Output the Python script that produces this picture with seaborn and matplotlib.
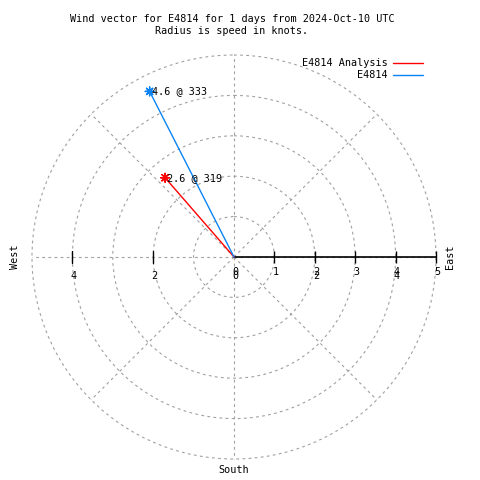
import numpy as np
import pandas as pd
import matplotlib
matplotlib.use('Agg')
import matplotlib.pyplot as plt
import seaborn as sns

## data
series = ['E4814 Analysis', 'E4814']
speed = [2.6, 4.6]          # knots
direction = [319, 333]      # degrees, clockwise from north
colors = ['#ff0000', '#0a84f5']
ticks_x = [0, 1, 2, 3, 4, 5]
ticks_r = [0, 2, 4]
title = 'Wind vector for E4814 for 1 days from 2024-Oct-10 UTC\nRadius is speed in knots.'

sns.set_style('white')
plt.rcParams['font.family'] = ['DejaVu Sans Mono', 'DejaVu Sans']
plt.rcParams['text.color'] = 'black'
fs = 7.3
grid_col = '#a0a0a0'

## build vectors: origin and tip for every series
theta = np.deg2rad(direction)
df = pd.DataFrame({
    'series': np.repeat(series, 2),
    'theta': np.repeat(theta, 2),
    'r': np.ravel([[0, s] for s in speed]),
})
tips = pd.DataFrame({'series': series, 'theta': theta, 'r': speed})
pal = dict(zip(series, colors))

fig = plt.figure(figsize=(4.8, 4.8), dpi=100)
ax = fig.add_axes([32 / 480, 21 / 480, 404 / 480, 404 / 480], projection='polar')
ax.set_theta_zero_location('N')
ax.set_theta_direction(-1)
ax.set_ylim(0, 5)
ax.spines['polar'].set_visible(False)
ax.set_thetagrids(range(0, 360, 45), labels=[])
ax.set_rgrids([1, 2, 3, 4, 5], labels=[])
ax.grid(True, color=grid_col, linestyle=(0, (2.5, 3)), linewidth=0.8)
for gl in ax.yaxis.get_gridlines() + ax.xaxis.get_gridlines():
    gl.set_clip_on(False)

# r axis drawn like gnuplot: solid line east with ticks
east, west = np.pi / 2, 3 * np.pi / 2
ax.plot([east, east], [0, 5], color='black', lw=1.2, zorder=3, clip_on=False)
ax.plot([east] * 5, ticks_x[1:], ls='none', marker='|', ms=8, mew=1, color='black',
        zorder=3, clip_on=False)
ax.plot([west] * 2, ticks_r[1:], ls='none', marker='|', ms=8, mew=1, color='black', zorder=3)
for t in ticks_x:
    ax.annotate(str(t), xy=(east, t), xytext=(1, -15), textcoords='offset pixels',
                ha='center', va='center', fontsize=fs, annotation_clip=False)
for t in ticks_r:
    ax.annotate(str(t), xy=(east, t), xytext=(1, -19), textcoords='offset pixels',
                ha='center', va='center', fontsize=fs, annotation_clip=False)
    if t > 0:
        ax.annotate(str(t), xy=(west, t), xytext=(1, -19), textcoords='offset pixels',
                    ha='center', va='center', fontsize=fs, annotation_clip=False)

sns.lineplot(data=df, x='theta', y='r', hue='series', palette=pal, estimator=None,
             sort=False, units='series', lw=1, ax=ax, legend=False, zorder=4)
sns.scatterplot(data=tips, x='theta', y='r', hue='series', palette=pal, marker=(8, 2, 0),
                s=40, linewidth=1, ax=ax, legend=False, zorder=5)
for i, row in tips.iterrows():
    ax.annotate(f"{row['r']:.1f} @ {direction[i]}", xy=(row['theta'], row['r']),
                xytext=(2, 0), textcoords='offset pixels', ha='left', va='center',
                fontsize=fs, zorder=6)
ax.set_xlabel('')
ax.set_ylabel('')

# legend: text first, then line sample
handles = [plt.Line2D([], [], color=c, lw=1) for c in colors]
fig.legend(handles, series, loc='upper right', bbox_to_anchor=(428 / 480, 1 - 53 / 480),
           frameon=False, markerfirst=False, fontsize=fs, handlelength=3.0,
           handletextpad=0.5, labelspacing=0.2, borderpad=0, labelcolor='black')

fig.text(232 / 480, 1 - 25 / 480, title, ha='center', va='center', fontsize=fs, linespacing=1.35)
fig.text(450 / 480, 1 - 257 / 480, 'East', rotation=90, ha='center', va='center', fontsize=fs)
fig.text(15 / 480, 1 - 257 / 480, 'West', rotation=90, ha='center', va='center', fontsize=fs)
fig.text(234 / 480, 1 - 470 / 480, 'South', ha='center', va='center', fontsize=fs)

fig.savefig('out.png', dpi=100)
